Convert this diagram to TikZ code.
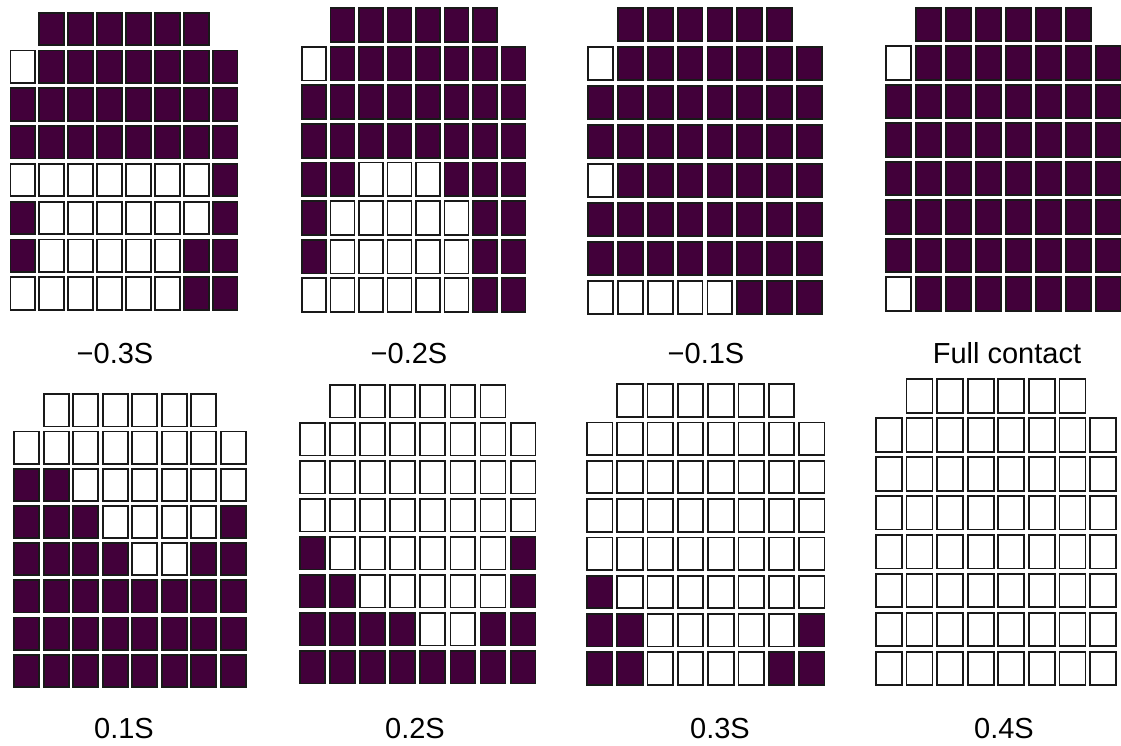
\documentclass[tikz,border=0pt]{standalone}
\usepackage{fontspec}
\setmainfont{Liberation Sans}
\definecolor{cellpurple}{RGB}{66,0,58}
\tikzset{
  cellbox/.style={draw=black!90, line width=1.8pt, inner sep=0pt, outer sep=0pt, anchor=north west},
  panellabel/.style={anchor=base, inner sep=0pt, font=\fontsize{29}{32}\selectfont}
}
% #1 name, #2 x0, #3 y0, #4 dx, #5 dy, #6 w, #7 h, #8 rows (0 white, 1 purple, 2 none)
\newcommand\gridpanel[8]{%
  \foreach \rowlist [count=\r] in {#8} {
    \foreach \v [count=\c] in \rowlist {
      \ifnum\v<2
        \ifnum\v=1 \def\cellfill{cellpurple}\else\def\cellfill{white}\fi
        \node[cellbox, fill=\cellfill, minimum width=#6pt-1.8pt, minimum height=#7pt-1.8pt]
          (#1-\r-\c) at ({#2+(\c-1)*#4+0.9},{#3+(\r-1)*#5+0.9}) {};
      \fi
    }
  }%
}
\begin{document}
\begin{tikzpicture}[x=1pt,y=-1pt]
\useasboundingbox[fill=white] (0,0) rectangle (1121,745);
% -0.3S
\gridpanel{pa}{9.5}{11.7}{28.9}{37.8}{26.6}{34.3}{
 {2,1,1,1,1,1,1,2},{0,1,1,1,1,1,1,1},{1,1,1,1,1,1,1,1},{1,1,1,1,1,1,1,1},
 {0,0,0,0,0,0,0,1},{1,0,0,0,0,0,0,1},{1,0,0,0,0,0,1,1},{0,0,0,0,0,0,1,1}}
% -0.2S
\gridpanel{pb}{301}{7.2}{28.5}{38.6}{25.8}{35.6}{
 {2,1,1,1,1,1,1,2},{0,1,1,1,1,1,1,1},{1,1,1,1,1,1,1,1},{1,1,1,1,1,1,1,1},
 {1,1,0,0,0,1,1,1},{1,0,0,0,0,0,1,1},{1,0,0,0,0,0,1,1},{0,0,0,0,0,0,1,1}}
% -0.1S
\gridpanel{pc}{587.3}{6.7}{29.8}{39}{26.6}{35.3}{
 {2,1,1,1,1,1,1,2},{0,1,1,1,1,1,1,1},{1,1,1,1,1,1,1,1},{1,1,1,1,1,1,1,1},
 {0,1,1,1,1,1,1,1},{1,1,1,1,1,1,1,1},{1,1,1,1,1,1,1,1},{0,0,0,0,0,1,1,1}}
% Full contact
\gridpanel{pd}{885}{6.7}{30}{38.5}{26.7}{35.5}{
 {2,1,1,1,1,1,1,2},{0,1,1,1,1,1,1,1},{1,1,1,1,1,1,1,1},{1,1,1,1,1,1,1,1},
 {1,1,1,1,1,1,1,1},{1,1,1,1,1,1,1,1},{1,1,1,1,1,1,1,1},{0,1,1,1,1,1,1,1}}
% 0.1S
\gridpanel{pe}{13.3}{393.3}{29.5}{37.2}{26.7}{34}{
 {2,0,0,0,0,0,0,2},{0,0,0,0,0,0,0,0},{1,1,0,0,0,0,0,0},{1,1,1,0,0,0,0,1},
 {1,1,1,1,0,0,1,1},{1,1,1,1,1,1,1,1},{1,1,1,1,1,1,1,1},{1,1,1,1,1,1,1,1}}
% 0.2S
\gridpanel{pf}{299}{384}{30.1}{38}{26.7}{34.3}{
 {2,0,0,0,0,0,0,2},{0,0,0,0,0,0,0,0},{0,0,0,0,0,0,0,0},{0,0,0,0,0,0,0,0},
 {1,0,0,0,0,0,0,1},{1,1,0,0,0,0,0,1},{1,1,1,1,0,0,1,1},{1,1,1,1,1,1,1,1}}
% 0.3S
\gridpanel{pg}{586}{383.3}{30.3}{38.3}{27.3}{34.3}{
 {2,0,0,0,0,0,0,2},{0,0,0,0,0,0,0,0},{0,0,0,0,0,0,0,0},{0,0,0,0,0,0,0,0},
 {0,0,0,0,0,0,0,0},{1,0,0,0,0,0,0,0},{1,1,0,0,0,0,0,1},{1,1,0,0,0,0,1,1}}
% 0.4S
\gridpanel{ph}{875}{378.4}{30.6}{38.9}{27.7}{35.3}{
 {2,0,0,0,0,0,0,2},{0,0,0,0,0,0,0,0},{0,0,0,0,0,0,0,0},{0,0,0,0,0,0,0,0},
 {0,0,0,0,0,0,0,0},{0,0,0,0,0,0,0,0},{0,0,0,0,0,0,0,0},{0,0,0,0,0,0,0,0}}
% labels
\node[panellabel] (la) at (115,363) {−0.3S};
\node[panellabel] (lb) at (409,363) {−0.2S};
\node[panellabel] (lc) at (706,363) {−0.1S};
\node[panellabel] (ld) at (1007,363) {Full contact};
\node[panellabel] (le) at (124,738) {0.1S};
\node[panellabel] (lf) at (415,738) {0.2S};
\node[panellabel] (lg) at (720,738) {0.3S};
\node[panellabel] (lh) at (1004,738) {0.4S};
\end{tikzpicture}
\end{document}
